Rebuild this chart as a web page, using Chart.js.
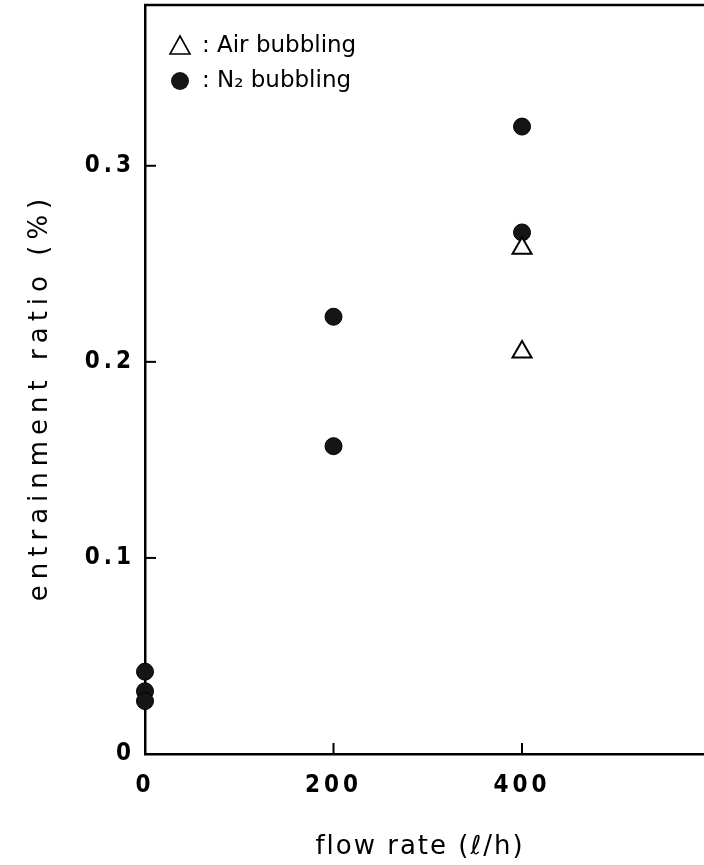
<!DOCTYPE html>
<html>
<head>
<meta charset="utf-8">
<script src="https://cdn.jsdelivr.net/npm/chart.js@4.4.1/dist/chart.umd.min.js"></script>
<style>
  html, body { margin: 0; padding: 0; background: #fff; }
  #wrap { width: 704px; height: 865px; }
</style>
</head>
<body>
<div id="wrap"><canvas id="chart" width="704" height="865"></canvas></div>
<script>
// 数据
const airFlow = [400, 400];
const airRatio = [0.258, 0.205];
const n2Flow = [0, 0, 0, 200, 200, 400, 400];
const n2Ratio = [0.042, 0.032, 0.027, 0.223, 0.157, 0.320, 0.266];
const xTicks = [0, 200, 400];
const yTicks = [0, 0.1, 0.2, 0.3];

const toPoints = (xs, ys) => xs.map((x, i) => ({ x: x, y: ys[i] }));
const tickFont = { family: '"DejaVu Sans Condensed", "Liberation Sans", sans-serif', size: 24, weight: 'bold' };

// 坐标轴框、内侧刻度、图例和标题
const framePlugin = {
    id: 'frame',
    beforeDraw(chart) {
        chart.ctx.letterSpacing = '4px';
    },
    afterDraw(chart) {
        const ctx = chart.ctx;
        const a = chart.chartArea;
        const xs = chart.scales.x;
        const ys = chart.scales.y;
        ctx.save();
        ctx.letterSpacing = '0px';
        ctx.strokeStyle = '#000';
        ctx.lineWidth = 2.5;
        // 顶部边框
        ctx.beginPath();
        ctx.moveTo(a.left - 1, a.top);
        ctx.lineTo(a.right + 2, a.top);
        ctx.stroke();
        // 内侧刻度
        ctx.lineWidth = 2;
        yTicks.forEach(v => {
            if (v === 0) return;
            const py = ys.getPixelForValue(v);
            ctx.beginPath();
            ctx.moveTo(a.left, py);
            ctx.lineTo(a.left + 11, py);
            ctx.stroke();
        });
        xTicks.forEach(v => {
            if (v === 0) return;
            const px = xs.getPixelForValue(v);
            ctx.beginPath();
            ctx.moveTo(px, a.bottom);
            ctx.lineTo(px, a.bottom - 11);
            ctx.stroke();
        });

        // 图例
        ctx.font = '23px "DejaVu Sans"';
        ctx.fillStyle = '#000';
        ctx.textBaseline = 'middle';
        ctx.textAlign = 'left';
        const lx = 180, ly1 = 46, ly2 = 81;
        ctx.lineWidth = 1.6;
        ctx.beginPath();
        ctx.moveTo(lx, ly1 - 10);
        ctx.lineTo(lx + 10, ly1 + 8);
        ctx.lineTo(lx - 10, ly1 + 8);
        ctx.closePath();
        ctx.stroke();
        ctx.fillText(':', lx + 22, ly1);
        ctx.fillText('Air bubbling', lx + 37, ly1);
        ctx.beginPath();
        ctx.arc(lx, ly2, 9, 0, Math.PI * 2);
        ctx.fillStyle = '#151515';
        ctx.fill();
        ctx.fillStyle = '#000';
        ctx.fillText(':', lx + 22, ly2);
        ctx.fillText('N\u2082 bubbling', lx + 37, ly2);

        // 轴标题
        ctx.font = '26px "DejaVu Sans"';
        ctx.letterSpacing = '2px';
        ctx.textAlign = 'center';
        ctx.fillText('flow rate (\u2113/h)', 420, 847);
        ctx.letterSpacing = '6px';
        ctx.translate(40, 397);
        ctx.rotate(-Math.PI / 2);
        ctx.fillText('entrainment ratio (%)', 0, 0);
        ctx.restore();
    }
};

const ctx = document.getElementById('chart').getContext('2d');
const chart = new Chart(ctx, {
    type: 'scatter',
    data: {
        datasets: [{
            label: 'Air bubbling',
            data: toPoints(airFlow, airRatio),
            pointStyle: 'triangle',
            pointRadius: 11,
            pointBackgroundColor: '#fff',
            pointBorderColor: '#000',
            pointBorderWidth: 2,
            clip: false
        }, {
            label: 'N2 bubbling',
            data: toPoints(n2Flow, n2Ratio),
            pointStyle: 'circle',
            pointRadius: 8.5,
            pointBackgroundColor: '#151515',
            pointBorderColor: '#000',
            pointBorderWidth: 1,
            clip: false
        }]
    },
    options: {
        responsive: false,
        animation: false,
        layout: { autoPadding: false, padding: { left: 0, top: 5, right: 1, bottom: 0 } },
        plugins: {
            legend: { display: false },
            tooltip: { enabled: false }
        },
        scales: {
            x: {
                type: 'linear',
                min: 0,
                max: 592,
                afterFit: s => {
                    s.height = 865 - 754;
                    s.paddingLeft = 0;
                    s.paddingRight = 0;
                },
                afterBuildTicks: s => { s.ticks = xTicks.map(v => ({ value: v })); },
                grid: { display: false },
                border: { display: true, color: '#000', width: 2.5 },
                ticks: {
                    color: '#000',
                    padding: 9,
                    font: tickFont,
                    callback: v => String(v)
                }
            },
            y: {
                type: 'linear',
                min: 0,
                max: 0.382,
                afterFit: s => {
                    s.width = 145;
                    s.paddingTop = 0;
                    s.paddingBottom = 0;
                },
                afterBuildTicks: s => { s.ticks = yTicks.map(v => ({ value: v })); },
                grid: { display: false },
                border: { display: true, color: '#000', width: 2.5 },
                ticks: {
                    color: '#000',
                    padding: 2,
                    font: tickFont,
                    callback: v => v === 0 ? '0' : v.toFixed(1)
                }
            }
        }
    },
    plugins: [framePlugin]
});
</script>
</body>
</html>
